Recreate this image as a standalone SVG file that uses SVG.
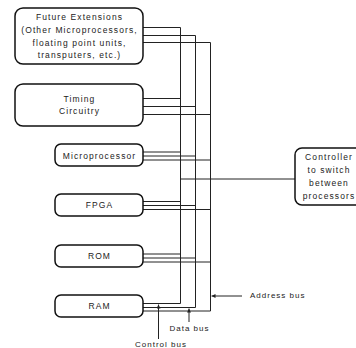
<svg xmlns="http://www.w3.org/2000/svg" width="356" height="348" viewBox="0 0 356 348">
<style>
.box{fill:#fff;stroke:#111;stroke-width:1.5}
.t{font-family:"Liberation Sans",Arial,sans-serif;font-size:8.5px;letter-spacing:1.1px;fill:#222;text-anchor:middle}
.l{font-family:"Liberation Sans",Arial,sans-serif;font-size:8px;letter-spacing:1px;fill:#222}
.w{fill:none;stroke:#222;stroke-width:1}
</style>
<defs>
<marker id="ah" viewBox="0 0 6 6" refX="6" refY="3" markerWidth="4" markerHeight="4" markerUnits="userSpaceOnUse" orient="auto">
<path d="M0,0 L6,3 L0,6 z" fill="#222"/>
</marker>
</defs>
<rect width="356" height="348" fill="#fff"/>
<g id="connectors">
<path class="w" d="M143,27.5H180.5V303.5H143"/>
<path class="w" d="M143,35.5H195.5V307.5H143"/>
<path class="w" d="M143,42.5H210.5V311H143"/>
<path class="w" d="M143,98.5H180.5M143,106.5H195.5M143,114.5H210.5"/>
<path class="w" d="M143,152H180.5M143,156H195.5M143,160H210.5"/>
<path class="w" d="M143,201.5H180.5M143,205.5H195.5M143,209.5H210.5"/>
<path class="w" d="M143,254H180.5M143,258H195.5M143,262H210.5"/>
<path class="w" d="M180.5,179H295"/>
<path class="w" d="M242,296H211.5" marker-end="url(#ah)"/>
<path class="w" d="M189,322V308.5" marker-end="url(#ah)"/>
<path class="w" d="M158.5,339V304.5" marker-end="url(#ah)"/>
</g>
<g id="future">
<rect class="box" x="15" y="8" width="128" height="56" rx="8"/>
<text class="t" x="79.5" y="20">Future Extensions</text>
<text class="t" x="79.5" y="33">(Other Microprocessors,</text>
<text class="t" x="79.5" y="45.5">floating point units,</text>
<text class="t" x="79.5" y="58">transputers, etc.)</text>
</g>
<g id="timing">
<rect class="box" x="15" y="84" width="128" height="42" rx="8"/>
<text class="t" x="79.5" y="102">Timing</text>
<text class="t" x="79.5" y="114">Circuitry</text>
</g>
<g id="microprocessor">
<rect class="box" x="55" y="144" width="88" height="22" rx="6"/>
<text class="t" x="99.5" y="159">Microprocessor</text>
</g>
<g id="fpga">
<rect class="box" x="55" y="194" width="88" height="22" rx="6"/>
<text class="t" x="99.5" y="208">FPGA</text>
</g>
<g id="rom">
<rect class="box" x="55" y="245" width="88" height="22" rx="6"/>
<text class="t" x="99.5" y="259">ROM</text>
</g>
<g id="ram">
<rect class="box" x="55" y="295" width="88" height="22" rx="6"/>
<text class="t" x="99.5" y="309">RAM</text>
</g>
<g id="controller">
<rect class="box" x="295" y="148" width="68" height="57" rx="7"/>
<text class="t" x="329" y="160">Controller</text>
<text class="t" x="329" y="173">to switch</text>
<text class="t" x="329" y="186">between</text>
<text class="t" x="329" y="199">processors</text>
</g>
<g id="labels">
<text class="l" x="250" y="297.5">Address bus</text>
<text class="l" x="189.5" y="330.5" text-anchor="middle">Data bus</text>
<text class="l" x="161" y="346.5" text-anchor="middle">Control bus</text>
</g>
</svg>
